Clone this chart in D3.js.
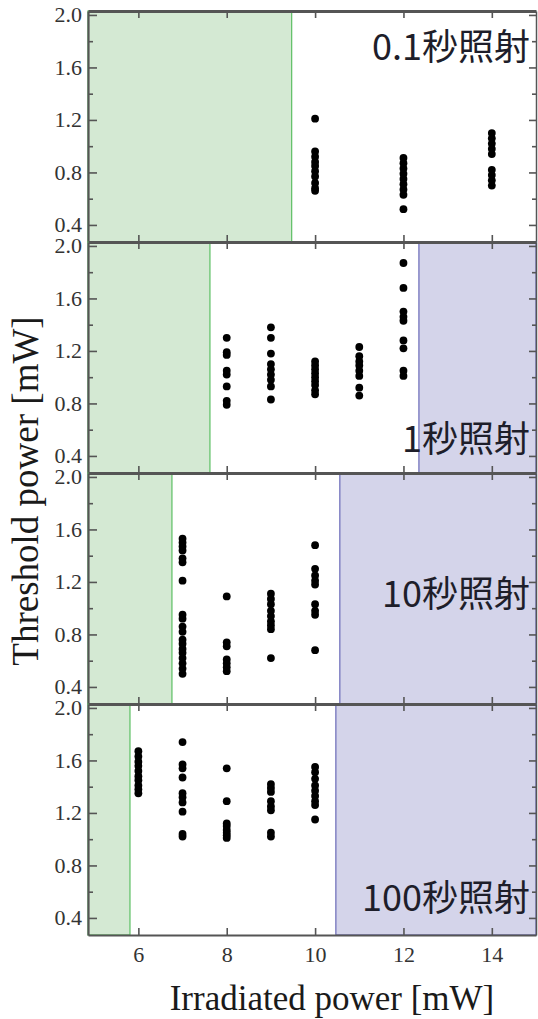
<!DOCTYPE html>
<html>
<head>
<meta charset="utf-8">
<script src="https://cdn.jsdelivr.net/npm/d3@7"></script>
<style>
  html, body { margin: 0; padding: 0; background: #fff; }
  svg { display: block; }
</style>
</head>
<body>
<div id="chart"></div>
<script>
// panel labels (irradiation time)
const panelLabels = ["0.1秒照射", "1秒照射", "10秒照射", "100秒照射"];

// shaded ranges in irradiated power [mW], null = none
const greenUntil = [9.47, 7.62, 6.76, 5.81];
const blueFrom = [null, 12.35, 10.56, 10.47];

// threshold power [mW] per irradiated power column, one object per panel
const panel1 = {
    10: [1.21, 0.96, 0.92, 0.88, 0.85, 0.81, 0.77, 0.72, 0.68, 0.66],
    12: [0.91, 0.87, 0.83, 0.79, 0.75, 0.71, 0.67, 0.63, 0.52],
    14: [1.10, 1.06, 1.02, 0.98, 0.94, 0.82, 0.78, 0.74, 0.70]
};
const panel2 = {
    8: [1.30, 1.19, 1.17, 1.05, 1.02, 0.93, 0.82, 0.79],
    9: [1.38, 1.30, 1.18, 1.10, 1.06, 1.02, 0.98, 0.93, 0.83],
    10: [1.12, 1.09, 1.06, 1.03, 1.00, 0.97, 0.94, 0.90, 0.87],
    11: [1.23, 1.16, 1.12, 1.09, 1.05, 1.01, 0.92, 0.86],
    12: [1.87, 1.68, 1.50, 1.46, 1.43, 1.28, 1.22, 1.05, 1.01]
};
const panel3 = {
    7: [1.53, 1.50, 1.47, 1.44, 1.38, 1.35, 1.21, 0.95, 0.92, 0.86, 0.82, 0.76, 0.73, 0.69, 0.66, 0.62, 0.58, 0.54, 0.50],
    8: [1.09, 0.74, 0.71, 0.61, 0.58, 0.55, 0.52],
    9: [1.11, 1.07, 1.03, 0.98, 0.94, 0.90, 0.87, 0.84, 0.62],
    10: [1.48, 1.30, 1.25, 1.21, 1.18, 1.03, 0.98, 0.95, 0.68]
};
const panel4 = {
    6: [1.67, 1.63, 1.59, 1.56, 1.52, 1.48, 1.45, 1.41, 1.38, 1.35],
    7: [1.74, 1.57, 1.54, 1.47, 1.35, 1.32, 1.28, 1.21, 1.04, 1.02],
    8: [1.54, 1.29, 1.12, 1.10, 1.07, 1.05, 1.03, 1.01],
    9: [1.42, 1.39, 1.36, 1.29, 1.25, 1.22, 1.05, 1.02],
    10: [1.55, 1.51, 1.46, 1.41, 1.37, 1.33, 1.29, 1.26, 1.15]
};
const panels = [panel1, panel2, panel3, panel4];

const xTicks = [6, 8, 10, 12, 14];
const yTicks = [0.4, 0.8, 1.2, 1.6, 2.0];
const yMinor = [0.6, 1.0, 1.4, 1.8];

// layout
const width = 538, height = 1019;
const left = 88, right = 536;
const top0 = 11, panelH = 231;
const labelBaseline = [49, 210, 134, 207]; // label baseline, px below panel top

const serif = "Liberation Serif";
const axisColour = "#555";

const svg = d3.select("#chart").append("svg")
    .attr("width", width)
    .attr("height", height);

const x = d3.scaleLinear().domain([4.86, 15.0]).range([left, right]);

panels.forEach((data, i) => {
    const top = top0 + i * panelH;
    const bottom = top + panelH;
    const y = d3.scaleLinear().domain([0.27, 2.03]).range([bottom, top]);
    const g = svg.append("g").attr("class", "panel");

    // shaded regions
    g.append("rect")
        .attr("x", x.range()[0])
        .attr("y", top)
        .attr("width", x(greenUntil[i]) - x.range()[0])
        .attr("height", panelH)
        .attr("fill", "#d4e9d3")
        .attr("stroke", "#5cbf63")
        .attr("stroke-width", 1.2);

    if (blueFrom[i] !== null) {
        g.append("rect")
            .attr("x", x(blueFrom[i]))
            .attr("y", top)
            .attr("width", x.range()[1] - x(blueFrom[i]))
            .attr("height", panelH)
            .attr("fill", "#d4d4ea")
            .attr("stroke", "#6a6ab8")
            .attr("stroke-width", 1.2);
    }

    // points
    const pts = [];
    for (const key of Object.keys(data)) {
        for (const v of data[key]) pts.push([+key, v]);
    }
    g.selectAll("circle")
        .data(pts)
        .join("circle")
        .attr("cx", d => x(d[0]))
        .attr("cy", d => y(d[1]))
        .attr("r", 3.9)
        .attr("fill", "#000");

    // left axis, major + minor ticks pointing inwards
    g.append("g")
        .attr("transform", `translate(${left},0)`)
        .call(d3.axisLeft(y).tickValues(yTicks).tickSizeInner(-9).tickSizeOuter(0)
            .tickPadding(6).tickFormat(d3.format(".1f")))
        .call(a => a.select(".domain").attr("stroke", axisColour).attr("stroke-width", 2.2));
    g.append("g")
        .attr("transform", `translate(${left},0)`)
        .call(d3.axisLeft(y).tickValues(yMinor).tickSizeInner(-5).tickSizeOuter(0).tickFormat(""))
        .call(a => a.select(".domain").remove());

    // right axis
    g.append("g")
        .attr("transform", `translate(${right},0)`)
        .call(d3.axisRight(y).tickValues(yTicks).tickSizeInner(-7).tickSizeOuter(0).tickFormat(""))
        .call(a => a.select(".domain").attr("stroke", axisColour).attr("stroke-width", 1.5));
    g.append("g")
        .attr("transform", `translate(${right},0)`)
        .call(d3.axisRight(y).tickValues(yMinor).tickSizeInner(-4).tickSizeOuter(0).tickFormat(""))
        .call(a => a.select(".domain").remove());

    // top axis (thick divider)
    g.append("g")
        .attr("transform", `translate(0,${top})`)
        .call(d3.axisTop(x).tickValues(xTicks).tickSizeInner(-7).tickSizeOuter(0).tickFormat(""))
        .call(a => a.select(".domain").attr("stroke", axisColour).attr("stroke-width", 3));

    // bottom axis
    const last = i === panels.length - 1;
    g.append("g")
        .attr("transform", `translate(0,${bottom})`)
        .call(d3.axisBottom(x).tickValues(xTicks).tickSizeInner(-7).tickSizeOuter(0)
            .tickPadding(11).tickFormat(last ? d3.format("d") : ""))
        .call(a => a.select(".domain").attr("stroke", axisColour).attr("stroke-width", last ? 2.2 : 3));

    g.selectAll(".tick line").attr("stroke", axisColour).attr("stroke-width", 1.6);
    g.selectAll("g").attr("font-family", serif).attr("font-size", 22);
    g.selectAll(".tick text")
        .attr("fill", "#333")
        .attr("font-family", serif)
        .attr("font-size", 22);

    // panel label
    g.append("text")
        .attr("x", 530)
        .attr("y", top + labelBaseline[i])
        .attr("text-anchor", "end")
        .attr("fill", "#1e1e2a")
        .attr("font-family", "Noto Sans CJK JP")
        .attr("font-size", 36)
        .text(panelLabels[i]);
});

// axis titles
svg.append("text")
    .attr("x", 332)
    .attr("y", 1010)
    .attr("text-anchor", "middle")
    .attr("fill", "#1a1a1a")
    .attr("font-family", serif)
    .attr("font-size", 35)
    .text("Irradiated power [mW]");

svg.append("text")
    .attr("transform", "translate(38,491) rotate(-90)")
    .attr("text-anchor", "middle")
    .attr("fill", "#1a1a1a")
    .attr("font-family", serif)
    .attr("font-size", 37)
    .text("Threshold power [mW]");
</script>
</body>
</html>
